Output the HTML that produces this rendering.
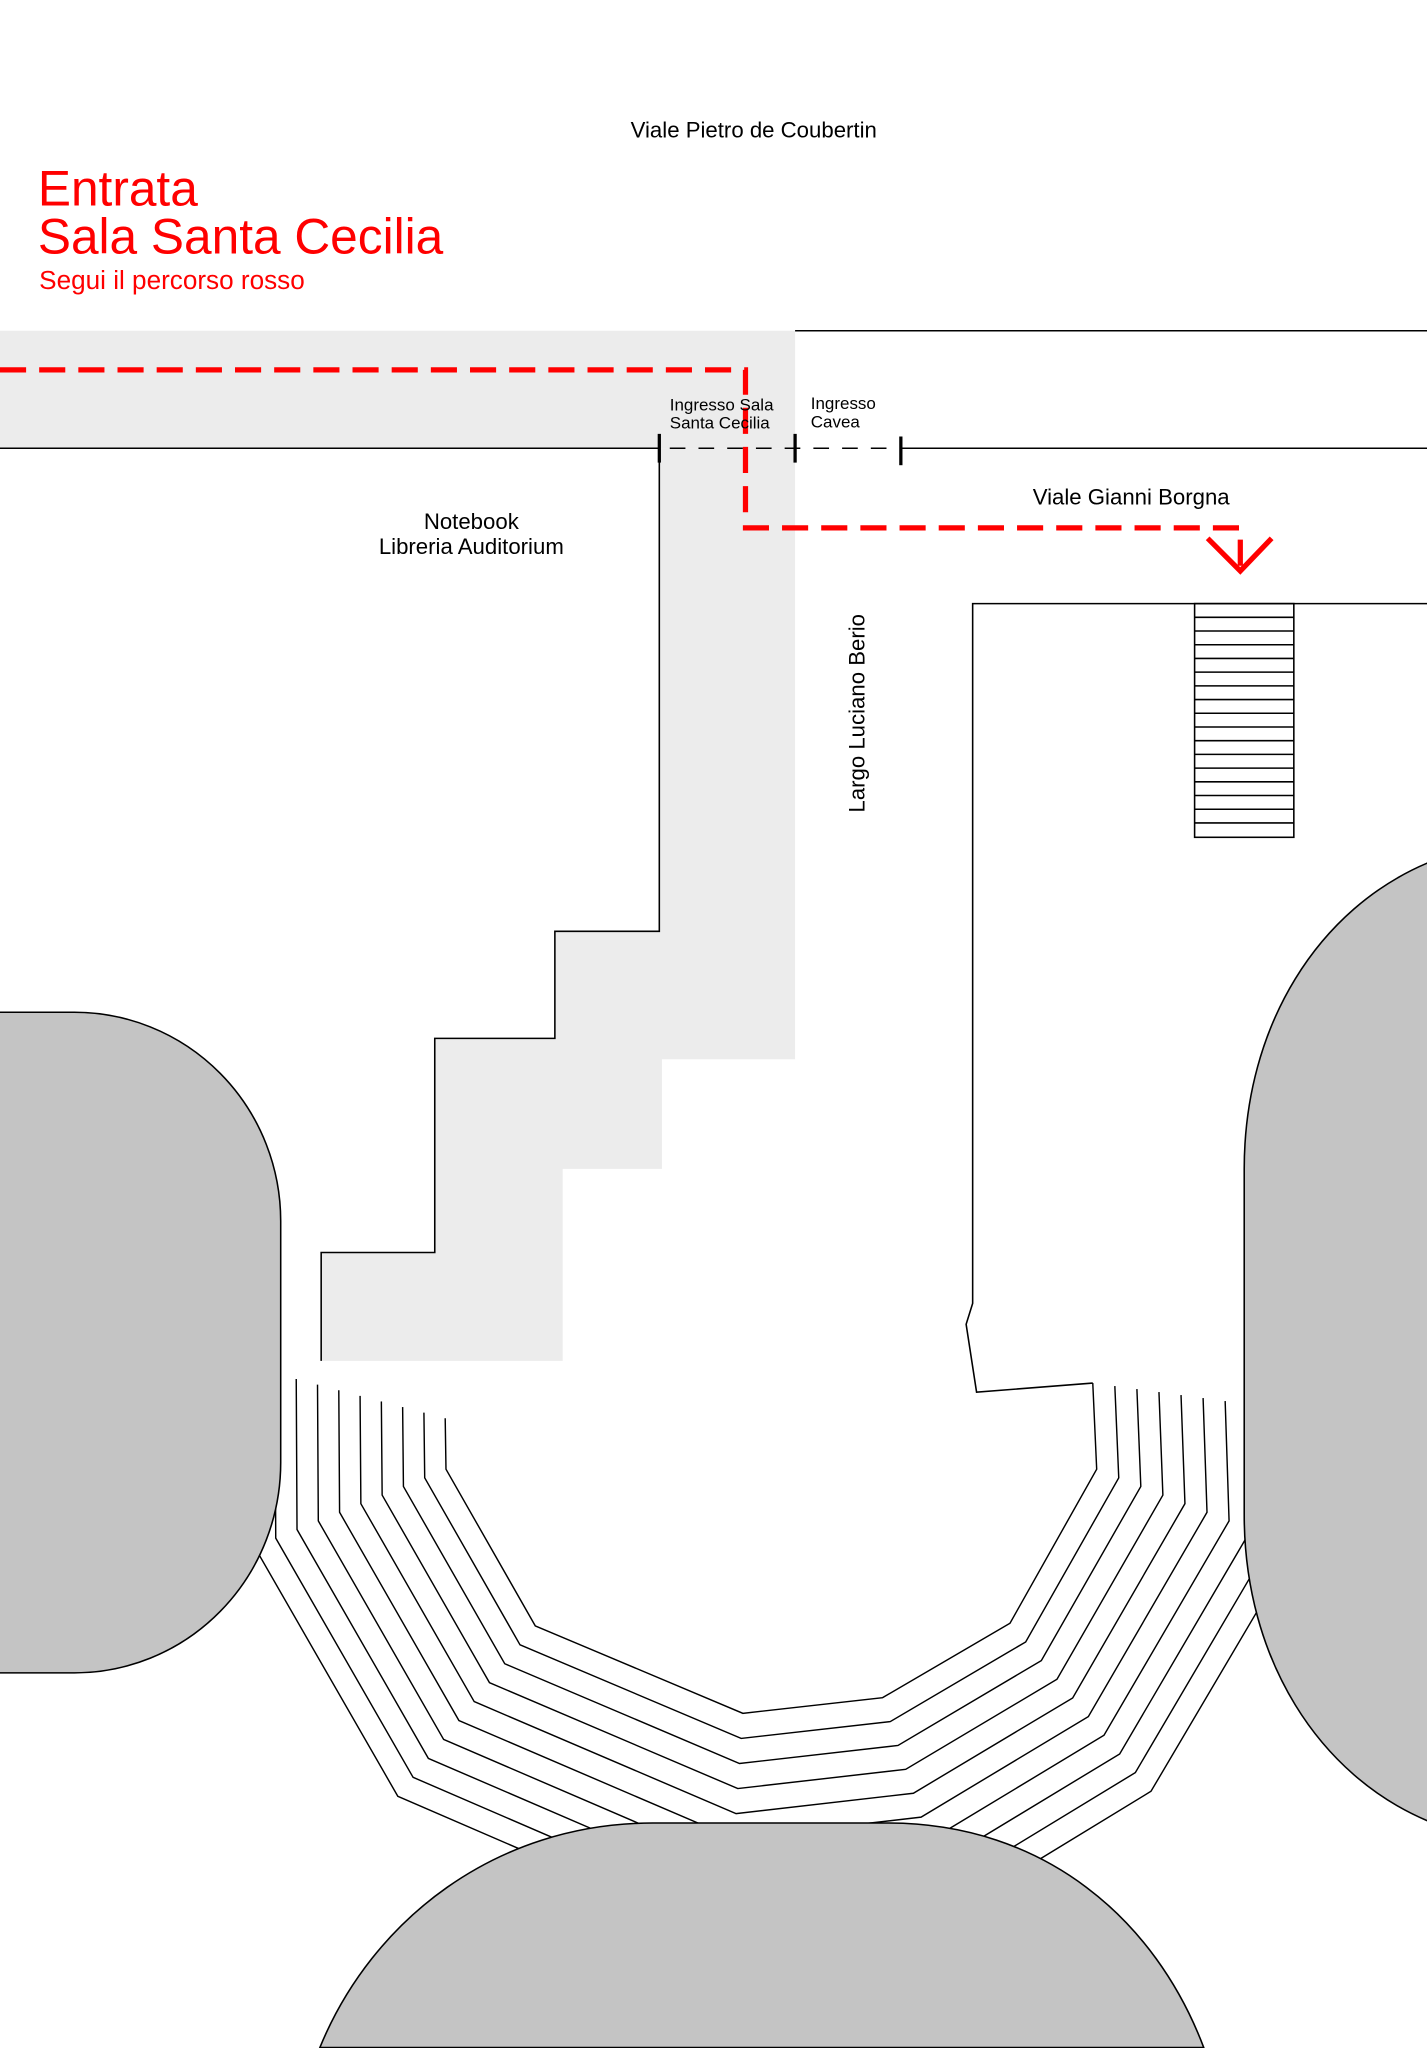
<!DOCTYPE html>
<html><head><meta charset="utf-8"><style>html,body{margin:0;padding:0;background:#fff}svg{display:block}</style></head>
<body>
<svg width="1427" height="2048" viewBox="0 0 1093 1568" xmlns="http://www.w3.org/2000/svg" font-family="'Liberation Sans', sans-serif">
<rect width="1093" height="1568" fill="#fff"/>
<rect x="0" y="253" width="609" height="90" fill="#ececec"/>
<polygon points="505,343 609,343 609,811 507,811 507,895 431,895 431,1042 246,1042 246,959 333,959 333,795 425,795 425,713 505,713" fill="#ececec"/>
<g fill="none" stroke="#000" stroke-width="1.2">
<polyline points="505,343 505,713 425,713 425,795 333,795 333,959 246,959 246,1042"/>
<line x1="609" y1="253" x2="1093" y2="253"/>
<line x1="0" y1="343" x2="505" y2="343"/>
<line x1="690" y1="343" x2="1093" y2="343"/>
<line x1="505" y1="343" x2="690" y2="343" stroke-dasharray="12,10" stroke-dashoffset="-8"/>
<polyline points="1093,462 745,462 745,998 740,1014 748,1066 837,1059"/>
<rect x="915" y="462" width="76" height="179"/>
</g>
<g stroke="#000" stroke-width="2.5">
<line x1="505" y1="332" x2="505" y2="354"/>
<line x1="609" y1="332" x2="609" y2="354"/>
<line x1="690" y1="334" x2="690" y2="356"/>
</g>
<g stroke="#000" stroke-width="1.2">
<line x1="915" y1="472.5" x2="991" y2="472.5"/><line x1="915" y1="483" x2="991" y2="483"/><line x1="915" y1="493.5" x2="991" y2="493.5"/><line x1="915" y1="504" x2="991" y2="504"/><line x1="915" y1="514.5" x2="991" y2="514.5"/><line x1="915" y1="525" x2="991" y2="525"/><line x1="915" y1="535.5" x2="991" y2="535.5"/><line x1="915" y1="546" x2="991" y2="546"/><line x1="915" y1="556.5" x2="991" y2="556.5"/><line x1="915" y1="567" x2="991" y2="567"/><line x1="915" y1="577.5" x2="991" y2="577.5"/><line x1="915" y1="588" x2="991" y2="588"/><line x1="915" y1="598.5" x2="991" y2="598.5"/><line x1="915" y1="609" x2="991" y2="609"/><line x1="915" y1="619.5" x2="991" y2="619.5"/><line x1="915" y1="630" x2="991" y2="630"/>
</g>
<g fill="none" stroke="#000" stroke-width="1.1">
<polyline points="341,1086 341.6,1125 410,1245 569,1312 676,1300 773.6,1243 840,1125 837,1059"/>
<polyline points="324.7,1081.7 325.3,1131.6 398.3,1259.5 567.7,1331.2 681.9,1318.3 785.6,1257.3 856.9,1131.6 853.9,1061.3"/>
<polyline points="308.4,1077.4 309,1138.2 386.6,1274 566.4,1350.4 687.8,1336.6 797.6,1271.6 873.8,1138.2 870.8,1063.6"/>
<polyline points="292.1,1073.1 292.7,1144.8 374.9,1288.5 565.1,1369.6 693.7,1354.9 809.6,1285.9 890.7,1144.8 887.7,1065.9"/>
<polyline points="275.8,1068.8 276.4,1151.4 363.2,1303 563.8,1388.8 699.6,1373.2 821.6,1300.2 907.6,1151.4 904.6,1068.2"/>
<polyline points="259.5,1064.5 260.1,1158 351.5,1317.5 562.5,1408 705.5,1391.5 833.6,1314.5 924.5,1158 921.5,1070.5"/>
<polyline points="243.2,1060.2 243.8,1164.6 339.8,1332 561.2,1427.2 711.4,1409.8 845.6,1328.8 941.4,1164.6 938.4,1072.8"/>
<polyline points="226.9,1055.9 227.5,1171.2 328.1,1346.5 559.9,1446.4 717.3,1428.1 857.6,1343.1 958.3,1171.2 955.3,1075.1"/>
<polyline points="210.6,1051.6 211.2,1177.8 316.4,1361 558.6,1465.6 723.2,1446.4 869.6,1357.4 975.2,1177.8 972.2,1077.4"/>
<polyline points="194.3,1047.3 194.9,1184.4 304.7,1375.5 557.3,1484.8 729.1,1464.7 881.6,1371.7 992.1,1184.4 989.1,1079.7"/>
</g>
<g fill="#c4c4c4" stroke="#000" stroke-width="1.2">
<path d="M-2,775 H57 A158,160 0 0 1 215,935 V1120 A158,161 0 0 1 57,1281 H-2 Z"/>
<path d="M1095,660 C1010,695 953,785 953,895 V1160 C953,1270 1010,1360 1095,1395 Z"/>
<path d="M245,1568 C285,1470 380,1396 500,1396 H680 C800,1396 885,1470 922,1568 Z"/>
</g>
<g fill="none" stroke="#ff0000" stroke-width="4">
<path d="M0,283 H571 V404 H950 V437" stroke-dasharray="20,10"/>
<polyline points="925,412 950,437 974,412"/>
</g>
<g fill="#000">
<text x="483" y="105" font-size="17">Viale Pietro de Coubertin</text>
<text x="513" y="314" font-size="13">Ingresso Sala</text>
<text x="513" y="328" font-size="13">Santa Cecilia</text>
<text x="621" y="313" font-size="13">Ingresso</text>
<text x="621" y="327" font-size="13">Cavea</text>
<text x="791" y="386" font-size="17">Viale Gianni Borgna</text>
<text x="361" y="405" font-size="17" text-anchor="middle">Notebook</text>
<text x="361" y="424" font-size="17" text-anchor="middle">Libreria Auditorium</text>
<text x="0" y="0" font-size="17" text-anchor="middle" transform="translate(662,546) rotate(-90)">Largo Luciano Berio</text>
</g>
<g fill="#ff0000">
<text x="29" y="157" font-size="38">Entrata</text>
<text x="29" y="194" font-size="38">Sala Santa Cecilia</text>
<text x="30" y="221" font-size="20">Segui il percorso rosso</text>
</g>
</svg>
</body></html>
